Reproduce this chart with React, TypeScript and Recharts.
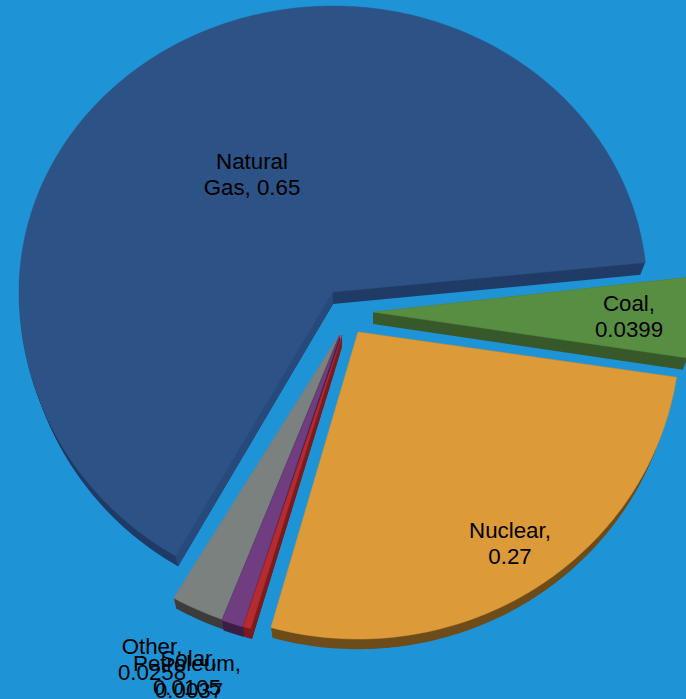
import React from "react";
import { PieChart, Pie } from "recharts";

// counter-clockwise from the top edge of the big slice
const sources = ["Natural Gas", "Other", "Petroleum", "Solar", "Nuclear", "Coal"];
const shares = [0.65, 0.0258, 0.0105, 0.0037, 0.27, 0.0399];

const topColors = ["#2c5286", "#7a817f", "#6f3d80", "#b52b2f", "#dc9a38", "#578e42"];
const sideColors = ["#203c66", "#3d3d3d", "#3b1f45", "#7a1c1f", "#6e4d1a", "#38592a"];
const endFaceColors = ["#284a7b", "#3d3d3d", "#3b1f45", "#7a1c1f", "#6e4d1a", "#38592a"];

// how far each slice is pulled out of the pie, in px
const explodeX = [0, 6, 7, 9, 25, 40];
const explodeY = [0, 43, 43, 43, 40, 20];
// radii of each slice: the tilt makes them differ by direction
const radiusX = [314, 330, 333, 338, 322, 318];
const radiusDown = [305, 304, 305, 305, 307, 312];
const radiusUp = [286, 304, 305, 305, 306, 340];

// centre x, first baseline and gap to the second line of each label
const labelX = [252, 152, 187, 189, 510, 629];
const labelY = [169, 654, 671, 666, 538, 311];
const labelGap = [26, 26, 24, 32, 26, 26];

const DEPTH = 12;
const RAD = Math.PI / 180;

const data = sources.map((name, i) => ({ name, value: shares[i], fill: topColors[i] }));

function rimPoint(x: number, y: number, rx: number, rUp: number, rDown: number, angle: number) {
  const s = Math.sin(angle * RAD);
  return [x + rx * Math.cos(angle * RAD), y - (s > 0 ? rUp : rDown) * s];
}

function slicePath(x: number, y: number, rx: number, rUp: number, rDown: number, start: number, end: number) {
  let d = `M${x},${y}`;
  for (let a = start; a < end; a += 1) {
    const p = rimPoint(x, y, rx, rUp, rDown, a);
    d += `L${p[0]},${p[1]}`;
  }
  const last = rimPoint(x, y, rx, rUp, rDown, end);
  return `${d}L${last[0]},${last[1]}Z`;
}

function ExtrudedSlice(props: any) {
  const i = sources.indexOf(props.name);
  const x = props.cx + explodeX[i];
  const y = props.cy + explodeY[i];
  const { startAngle, endAngle } = props;
  const layers = [];
  for (let d = DEPTH; d > 0; d--) {
    // the underside is a bit smaller than the top
    layers.push(
      <path
        key={d}
        d={slicePath(x, y + d, radiusX[i] - d * 0.4, radiusUp[i] - d * 0.15, radiusDown[i] - d * 0.15, startAngle, endAngle)}
        fill={sideColors[i]}
      />
    );
  }
  const tipTop = rimPoint(x, y, radiusX[i], radiusUp[i], radiusDown[i], endAngle);
  const tipBottom = rimPoint(x, y + DEPTH, radiusX[i] - DEPTH * 0.4, radiusUp[i] - DEPTH * 0.15, radiusDown[i] - DEPTH * 0.15, endAngle);
  return (
    <g>
      {layers}
      <path d={`M${x},${y}L${tipTop[0]},${tipTop[1]}L${tipBottom[0]},${tipBottom[1]}L${x},${y + DEPTH}Z`} fill={endFaceColors[i]} />
      <path
        d={slicePath(x, y, radiusX[i], radiusUp[i], radiusDown[i], startAngle, endAngle)}
        fill={topColors[i]}
        stroke={topColors[i]}
        strokeWidth={0.5}
      />
    </g>
  );
}

function SliceLabel(props: any) {
  const i = sources.indexOf(props.name);
  const text = `${sources[i]}, ${shares[i]}`;
  const cut = text.indexOf(" ");
  return (
    <text x={labelX[i]} y={labelY[i]} textAnchor="middle" fontSize={22.3} fill="#000" fontFamily="Liberation Sans">
      <tspan x={labelX[i]}>{text.slice(0, cut)}</tspan>
      <tspan x={labelX[i]} dy={labelGap[i]}>{text.slice(cut + 1)}</tspan>
    </text>
  );
}

export default function App() {
  return (
    <div style={{ position: "absolute", left: 0, top: 0, width: 686, height: 699, background: "#1e94d7", overflow: "hidden" }}>
      <PieChart width={686} height={699} margin={{ top: 0, right: 0, bottom: 0, left: 0 }}>
        <Pie
          data={data}
          dataKey="value"
          nameKey="name"
          cx={333}
          cy={292}
          innerRadius={0}
          outerRadius={314}
          startAngle={5.9}
          endAngle={365.9}
          stroke="none"
          isAnimationActive={false}
          shape={ExtrudedSlice}
          label={SliceLabel}
          labelLine={false}
        />
      </PieChart>
    </div>
  );
}
